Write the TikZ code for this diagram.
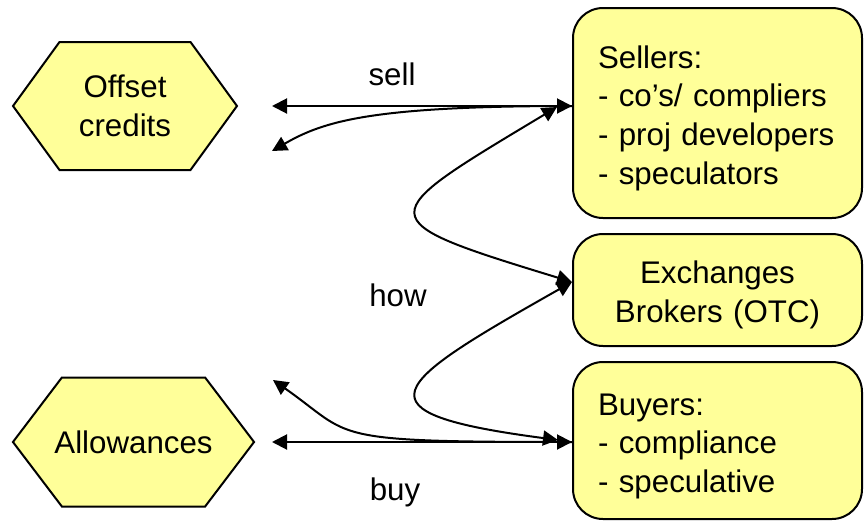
\documentclass[tikz,border=0pt]{standalone}
\usepackage{fontspec}
\setmainfont{Liberation Sans}
\usetikzlibrary{shapes.symbols,arrows.meta}
\definecolor{paleyellow}{HTML}{FFFF99}

\begin{document}
\begin{tikzpicture}[>={Triangle[length=0.3cm,width=0.3cm]}, line width=0.04cm, font=\fontsize{17.8}{22}\selectfont]
    \tikzstyle{market}=[draw=black,fill=paleyellow,shape=signal,signal to=east and west,signal pointer angle=108,minimum height=2.56cm,align=center,inner sep=0pt]
    \tikzstyle{party}=[draw=black,fill=paleyellow,rounded corners=0.6cm,text width=4.78cm,inner xsep=0.5cm,inner ysep=0pt,execute at begin node={\rule{0pt}{0.66cm}}]
    \tikzstyle{lbl}=[inner sep=0pt]

    \useasboundingbox (0,0) rectangle (17.34,-10.5);

    \node[market, minimum width=4.48cm] at (2.5,-2.12) (offset) {Offset\\credits};
    \node[market, signal pointer angle=105.6, inner xsep=-0.15cm, minimum height=2.58cm] at (2.67,-8.84) (allow) {Allowances};

    \node[party, align=left, minimum height=4.2cm] at (14.35,-2.26) (sellers) {Sellers:\\- co’s/ compliers\\- proj developers\\- speculators};
    \node[party, align=center, minimum height=2.24cm] at (14.35,-5.8) (exch) {Exchanges\\Brokers (OTC)};
    \node[party, align=left, minimum height=3.14cm] at (14.35,-8.81) (buyers) {Buyers:\\- compliance\\- speculative};

    \node[lbl] at (7.96,-5.9) (how) {how};

    \coordinate (sellEnd) at (5.44,-2.12);
    \coordinate (sellLow) at (5.44,-3.02);
    \coordinate (buyEnd) at (5.44,-8.84);
    \coordinate (buyHigh) at (5.46,-7.6);
    \coordinate (howTop) at (11.14,-2.14);
    \coordinate (howLow) at (11.16,-8.8);

    \draw[<->] (sellEnd) -- (offset -| sellers.west) node [pos=0.4, above=0.38cm, lbl] {sell};
    \draw[->] (offset -| sellers.west) .. controls +(180:4) and +(30:1.2) .. (sellLow);

    \draw[<->] (howTop) .. controls +(211:4.32) and +(163:4.32) .. ([yshift=0.16cm]exch.west);
    \draw[<->] ([yshift=0.16cm]exch.west) .. controls +(209.5:4.2) and +(172.5:4.2) .. (howLow);

    \draw[<->] (buyEnd) -- (allow -| buyers.west) node [pos=0.41, below=0.7cm, lbl] {buy};
    \draw[->] (allow -| buyers.west) .. controls +(180:5) and +(-35:2) .. (buyHigh);
\end{tikzpicture}
\end{document}
